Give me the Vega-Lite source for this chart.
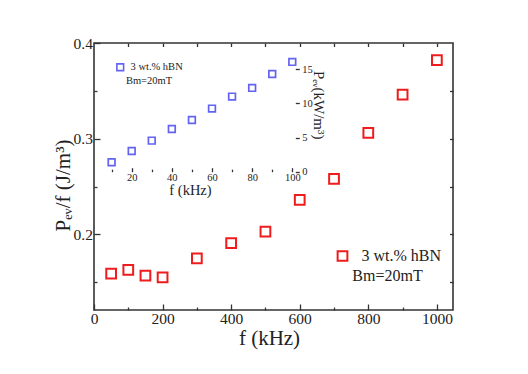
{
  "$schema": "https://vega.github.io/schema/vega-lite/v6.json",
  "width": 359,
  "height": 267,
  "autosize": "none",
  "padding": {"left": 94, "top": 43, "right": 75, "bottom": 64},
  "background": "white",
  "view": {"stroke": "#333", "strokeWidth": 1.6},
  "config": {
    "font": "Liberation Serif",
    "axis": {
      "labelFont": "Liberation Serif",
      "titleFont": "Liberation Serif",
      "labelColor": "#222",
      "titleColor": "#222",
      "tickColor": "#333",
      "tickWidth": 1.3,
      "domain": false,
      "grid": false,
      "labelFlush": false,
      "labelOverlap": false,
      "labelBound": false,
      "titleFontWeight": "normal"
    },
    "legend": {
      "labelFont": "Liberation Serif",
      "titleFont": "Liberation Serif",
      "labelColor": "#222",
      "titleColor": "#222",
      "titleFontWeight": "normal",
      "padding": 0
    }
  },
  "datasets": {
    "main": [
      {"f": 50, "pevf": 0.159},
      {"f": 100, "pevf": 0.163},
      {"f": 150, "pevf": 0.157},
      {"f": 200, "pevf": 0.155},
      {"f": 300, "pevf": 0.175},
      {"f": 400, "pevf": 0.191},
      {"f": 500, "pevf": 0.203},
      {"f": 600, "pevf": 0.236},
      {"f": 700, "pevf": 0.258},
      {"f": 800, "pevf": 0.306},
      {"f": 900, "pevf": 0.346},
      {"f": 1000, "pevf": 0.382}
    ],
    "inset": [
      {"f": 10, "pev": 1.38},
      {"f": 20, "pev": 3.03},
      {"f": 30, "pev": 4.55},
      {"f": 40, "pev": 6.26},
      {"f": 50, "pev": 7.58},
      {"f": 60, "pev": 9.24},
      {"f": 70, "pev": 11.0},
      {"f": 80, "pev": 12.27},
      {"f": 90, "pev": 14.3},
      {"f": 100, "pev": 16.08}
    ]
  },
  "layer": [
    {
      "data": {"name": "main"},
      "mark": {"type": "point", "shape": "square", "filled": false, "size": 95, "strokeWidth": 2, "opacity": 1},
      "encoding": {
        "x": {
          "field": "f", "type": "quantitative",
          "scale": {"domain": [0, 1047], "nice": false, "zero": false},
          "axis": {
            "orient": "bottom", "values": [0, 200, 400, 600, 800, 1000], "format": "d",
            "tickSize": -6, "labelPadding": 7.5, "labelFontSize": 15.5,
            "title": "f (kHz)", "titleFontSize": 21, "titleX": 175, "titleY": 17, "titleBaseline": "top"
          }
        },
        "y": {
          "field": "pevf", "type": "quantitative",
          "scale": {"domain": [0.121, 0.4], "nice": false, "zero": false},
          "axis": {
            "orient": "left", "values": [0.2, 0.3, 0.4], "format": ".1f",
            "tickSize": -6, "labelPadding": 7.6, "labelFontSize": 15.5,
            "title": "Pₑᵥ/f (J/m³)", "titleFontSize": 21, "titleX": -31, "titleY": 142,
            "titleBaseline": "middle", "titleAlign": "center", "titleAngle": 270
          }
        },
        "color": {
          "datum": "3 wt.% hBN",
          "scale": {"range": ["#ee1c1c"]},
          "legend": {
            "orient": "none", "legendX": 240.5, "legendY": 205,
            "title": "Bm=20mT", "titleOrient": "bottom", "titleAnchor": "middle",
            "titleFontSize": 16, "titlePadding": 3,
            "labelFontSize": 16, "labelOffset": 11,
            "symbolType": "square", "symbolSize": 95, "symbolStrokeWidth": 2
          }
        }
      }
    },
    {
      "data": {"name": "main"},
      "mark": {"type": "point", "opacity": 0},
      "encoding": {
        "x": {
          "field": "f", "type": "quantitative",
          "scale": {"domain": [0, 1047], "nice": false, "zero": false},
          "axis": {"orient": "bottom", "values": [100, 300, 500, 700, 900], "tickSize": -3, "labels": false, "title": null}
        },
        "y": {
          "field": "pevf", "type": "quantitative",
          "scale": {"domain": [0.121, 0.4], "nice": false, "zero": false},
          "axis": {"orient": "left", "values": [0.15, 0.25, 0.35], "tickSize": -3, "labels": false, "title": null}
        }
      }
    },
    {
      "data": {"name": "main"},
      "mark": {"type": "point", "opacity": 0},
      "encoding": {
        "x": {
          "field": "f", "type": "quantitative",
          "scale": {"domain": [0, 1047], "nice": false, "zero": false},
          "axis": {"orient": "top", "values": [100, 200, 300, 400, 500, 600, 700, 800, 900, 1000], "tickSize": -3.5, "labels": false, "title": null}
        },
        "y": {
          "field": "pevf", "type": "quantitative",
          "scale": {"domain": [0.121, 0.4], "nice": false, "zero": false},
          "axis": {"orient": "right", "values": [0.15, 0.2, 0.25, 0.3, 0.35], "tickSize": -3.5, "labels": false, "title": null}
        }
      }
    },
    {
      "data": {"name": "inset"},
      "mark": {"type": "point", "shape": "square", "filled": false, "size": 45, "strokeWidth": 1.7},
      "encoding": {
        "x": {
          "field": "f", "type": "quantitative",
          "scale": {"domain": [1.22, 180.05], "nice": false, "zero": false},
          "axis": {
            "orient": "bottom", "offset": -138.3, "values": [20, 40, 60, 80, 100],
            "tickSize": -4, "labelPadding": 4.6, "labelFontSize": 10.5,
            "title": "f (kHz)", "titleFontSize": 14.5, "titleX": 96, "titleY": 12, "titleBaseline": "top"
          }
        },
        "y": {
          "field": "pev", "type": "quantitative",
          "scale": {"domain": [-20.26, 18.85], "nice": false, "zero": false},
          "axis": {
            "orient": "right", "offset": -153.7, "values": [0, 5, 10, 15],
            "tickSize": -4, "labelPadding": 6.4, "labelFontSize": 10.5,
            "title": "Pₑᵥ(kW/m³)", "titleFontSize": 15, "titleAngle": 90,
            "titleX": 19.5, "titleY": 61.7, "titleBaseline": "middle", "titleAlign": "center"
          }
        },
        "color": {
          "datum": "3 wt.% hBN",
          "scale": {"range": ["#2222ee"]},
          "legend": {
            "orient": "none", "legendX": 21, "legendY": 19,
            "title": "Bm=20mT", "titleOrient": "bottom", "titleAnchor": "middle",
            "titleFontSize": 10.5, "titlePadding": 2,
            "labelFontSize": 10.5, "labelOffset": 5,
            "symbolType": "square", "symbolSize": 45, "symbolStrokeWidth": 1.6
          }
        }
      }
    },
    {
      "mark": {"type": "rule", "color": "#333", "strokeWidth": 1.6},
      "encoding": {
        "x": {
          "datum": 103.5, "type": "quantitative",
          "scale": {"domain": [1.22, 180.05], "nice": false, "zero": false},
          "axis": {"orient": "bottom", "offset": -138.3, "values": [10, 30, 50, 70, 90], "tickSize": -2.5, "labels": false, "title": null}
        },
        "y": {
          "datum": 0, "type": "quantitative",
          "scale": {"domain": [-20.26, 18.85], "nice": false, "zero": false},
          "axis": null
        },
        "y2": {"datum": 18.85}
      }
    },
    {
      "mark": {"type": "rule", "color": "#333", "strokeWidth": 1.6},
      "encoding": {
        "y": {
          "datum": 0, "type": "quantitative",
          "scale": {"domain": [-20.26, 18.85], "nice": false, "zero": false},
          "axis": null
        },
        "x": {
          "datum": 1.22, "type": "quantitative",
          "scale": {"domain": [1.22, 180.05], "nice": false, "zero": false},
          "axis": null
        },
        "x2": {"datum": 103.5}
      }
    }
  ],
  "resolve": {"scale": {"x": "independent", "y": "independent", "color": "independent"}}
}
